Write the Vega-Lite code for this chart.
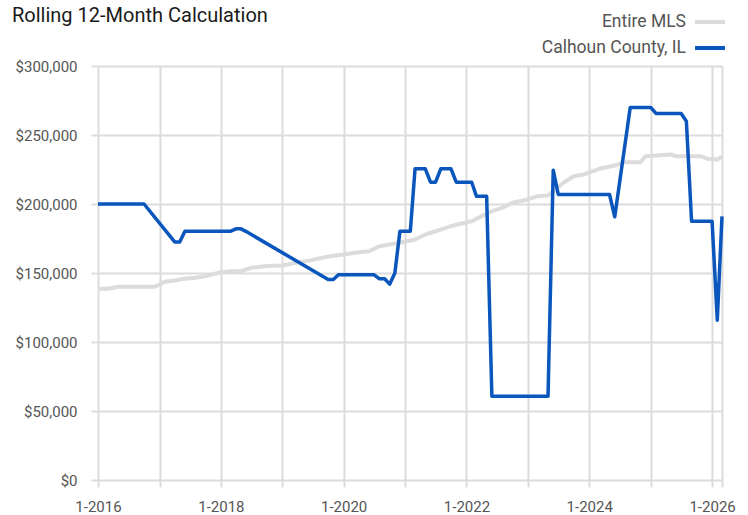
{
  "$schema": "https://vega.github.io/schema/vega-lite/v6.json",
  "width": 624,
  "height": 414,
  "autosize": {"type": "none"},
  "padding": {"left": 98, "top": 66, "right": 26, "bottom": 35},
  "background": "white",
  "config": {
    "font": "Roboto, sans-serif",
    "view": {"stroke": null}
  },
  "title": {
    "text": "Rolling 12-Month Calculation",
    "anchor": "start",
    "frame": "group",
    "orient": "top",
    "font": "Roboto, sans-serif",
    "fontSize": 20,
    "fontWeight": "normal",
    "color": "#1a1a1a",
    "dx": -86,
    "baseline": "alphabetic",
    "offset": -37
  },
  "data": {
    "values": [
      {"date": "2016-01", "series": "Entire MLS", "value": 138600},
      {"date": "2016-03", "series": "Entire MLS", "value": 138600},
      {"date": "2016-05", "series": "Entire MLS", "value": 140000},
      {"date": "2016-12", "series": "Entire MLS", "value": 140000},
      {"date": "2017-01", "series": "Entire MLS", "value": 141700},
      {"date": "2017-02", "series": "Entire MLS", "value": 143600},
      {"date": "2017-04", "series": "Entire MLS", "value": 144500},
      {"date": "2017-05", "series": "Entire MLS", "value": 145300},
      {"date": "2017-06", "series": "Entire MLS", "value": 145800},
      {"date": "2017-08", "series": "Entire MLS", "value": 146500},
      {"date": "2017-10", "series": "Entire MLS", "value": 147700},
      {"date": "2017-11", "series": "Entire MLS", "value": 148700},
      {"date": "2018-01", "series": "Entire MLS", "value": 150600},
      {"date": "2018-03", "series": "Entire MLS", "value": 151300},
      {"date": "2018-05", "series": "Entire MLS", "value": 151300},
      {"date": "2018-07", "series": "Entire MLS", "value": 153800},
      {"date": "2018-10", "series": "Entire MLS", "value": 155000},
      {"date": "2019-01", "series": "Entire MLS", "value": 155400},
      {"date": "2019-04", "series": "Entire MLS", "value": 157500},
      {"date": "2019-07", "series": "Entire MLS", "value": 159500},
      {"date": "2019-10", "series": "Entire MLS", "value": 162000},
      {"date": "2020-01", "series": "Entire MLS", "value": 163400},
      {"date": "2020-04", "series": "Entire MLS", "value": 165100},
      {"date": "2020-06", "series": "Entire MLS", "value": 165800},
      {"date": "2020-08", "series": "Entire MLS", "value": 169400},
      {"date": "2020-10", "series": "Entire MLS", "value": 170700},
      {"date": "2020-12", "series": "Entire MLS", "value": 171900},
      {"date": "2021-03", "series": "Entire MLS", "value": 174300},
      {"date": "2021-05", "series": "Entire MLS", "value": 177900},
      {"date": "2021-08", "series": "Entire MLS", "value": 181500},
      {"date": "2021-10", "series": "Entire MLS", "value": 183900},
      {"date": "2021-12", "series": "Entire MLS", "value": 185900},
      {"date": "2022-02", "series": "Entire MLS", "value": 187500},
      {"date": "2022-04", "series": "Entire MLS", "value": 191200},
      {"date": "2022-06", "series": "Entire MLS", "value": 194800},
      {"date": "2022-08", "series": "Entire MLS", "value": 197200},
      {"date": "2022-10", "series": "Entire MLS", "value": 200900},
      {"date": "2023-01", "series": "Entire MLS", "value": 203300},
      {"date": "2023-03", "series": "Entire MLS", "value": 205700},
      {"date": "2023-05", "series": "Entire MLS", "value": 206200},
      {"date": "2023-08", "series": "Entire MLS", "value": 215400},
      {"date": "2023-10", "series": "Entire MLS", "value": 220100},
      {"date": "2023-12", "series": "Entire MLS", "value": 221400},
      {"date": "2024-03", "series": "Entire MLS", "value": 225500},
      {"date": "2024-06", "series": "Entire MLS", "value": 227900},
      {"date": "2024-08", "series": "Entire MLS", "value": 230300},
      {"date": "2024-11", "series": "Entire MLS", "value": 230300},
      {"date": "2024-12", "series": "Entire MLS", "value": 234600},
      {"date": "2025-05", "series": "Entire MLS", "value": 235900},
      {"date": "2025-06", "series": "Entire MLS", "value": 234600},
      {"date": "2025-11", "series": "Entire MLS", "value": 234600},
      {"date": "2025-12", "series": "Entire MLS", "value": 232800},
      {"date": "2026-02", "series": "Entire MLS", "value": 232200},
      {"date": "2026-03", "series": "Entire MLS", "value": 234200},
      {"date": "2016-01", "series": "Calhoun County, IL", "value": 200000},
      {"date": "2016-10", "series": "Calhoun County, IL", "value": 200000},
      {"date": "2017-04", "series": "Calhoun County, IL", "value": 172500},
      {"date": "2017-05", "series": "Calhoun County, IL", "value": 172500},
      {"date": "2017-06", "series": "Calhoun County, IL", "value": 180300},
      {"date": "2018-03", "series": "Calhoun County, IL", "value": 180300},
      {"date": "2018-04", "series": "Calhoun County, IL", "value": 182000},
      {"date": "2018-05", "series": "Calhoun County, IL", "value": 182000},
      {"date": "2018-06", "series": "Calhoun County, IL", "value": 180000},
      {"date": "2019-10", "series": "Calhoun County, IL", "value": 145300},
      {"date": "2019-11", "series": "Calhoun County, IL", "value": 145300},
      {"date": "2019-12", "series": "Calhoun County, IL", "value": 148700},
      {"date": "2020-07", "series": "Calhoun County, IL", "value": 148700},
      {"date": "2020-08", "series": "Calhoun County, IL", "value": 145800},
      {"date": "2020-09", "series": "Calhoun County, IL", "value": 145800},
      {"date": "2020-10", "series": "Calhoun County, IL", "value": 141900},
      {"date": "2020-11", "series": "Calhoun County, IL", "value": 150000},
      {"date": "2020-12", "series": "Calhoun County, IL", "value": 180300},
      {"date": "2021-02", "series": "Calhoun County, IL", "value": 180300},
      {"date": "2021-03", "series": "Calhoun County, IL", "value": 225500},
      {"date": "2021-05", "series": "Calhoun County, IL", "value": 225500},
      {"date": "2021-06", "series": "Calhoun County, IL", "value": 215800},
      {"date": "2021-07", "series": "Calhoun County, IL", "value": 215800},
      {"date": "2021-08", "series": "Calhoun County, IL", "value": 225500},
      {"date": "2021-10", "series": "Calhoun County, IL", "value": 225500},
      {"date": "2021-11", "series": "Calhoun County, IL", "value": 215800},
      {"date": "2022-02", "series": "Calhoun County, IL", "value": 215800},
      {"date": "2022-03", "series": "Calhoun County, IL", "value": 205700},
      {"date": "2022-05", "series": "Calhoun County, IL", "value": 205700},
      {"date": "2022-06", "series": "Calhoun County, IL", "value": 60700},
      {"date": "2023-05", "series": "Calhoun County, IL", "value": 60700},
      {"date": "2023-06", "series": "Calhoun County, IL", "value": 224500},
      {"date": "2023-07", "series": "Calhoun County, IL", "value": 206900},
      {"date": "2024-05", "series": "Calhoun County, IL", "value": 206900},
      {"date": "2024-06", "series": "Calhoun County, IL", "value": 190700},
      {"date": "2024-09", "series": "Calhoun County, IL", "value": 270000},
      {"date": "2025-01", "series": "Calhoun County, IL", "value": 270000},
      {"date": "2025-02", "series": "Calhoun County, IL", "value": 265600},
      {"date": "2025-07", "series": "Calhoun County, IL", "value": 265600},
      {"date": "2025-08", "series": "Calhoun County, IL", "value": 260000},
      {"date": "2025-09", "series": "Calhoun County, IL", "value": 187500},
      {"date": "2026-01", "series": "Calhoun County, IL", "value": 187500},
      {"date": "2026-02", "series": "Calhoun County, IL", "value": 115800},
      {"date": "2026-03", "series": "Calhoun County, IL", "value": 191000}
    ],
    "format": {"parse": {"date": "utc:'%Y-%m'"}}
  },
  "encoding": {
    "x": {
      "field": "date",
      "type": "temporal",
      "title": null,
      "scale": {
        "type": "utc",
        "domain": [
          {"year": 2016, "month": 1, "date": 1, "utc": true},
          {"year": 2026, "month": 3, "date": 1, "utc": true}
        ]
      },
      "axis": {
        "values": [
          {"year": 2016, "month": 1, "date": 1, "utc": true},
          {"year": 2017, "month": 1, "date": 1, "utc": true},
          {"year": 2018, "month": 1, "date": 1, "utc": true},
          {"year": 2019, "month": 1, "date": 1, "utc": true},
          {"year": 2020, "month": 1, "date": 1, "utc": true},
          {"year": 2021, "month": 1, "date": 1, "utc": true},
          {"year": 2022, "month": 1, "date": 1, "utc": true},
          {"year": 2023, "month": 1, "date": 1, "utc": true},
          {"year": 2024, "month": 1, "date": 1, "utc": true},
          {"year": 2025, "month": 1, "date": 1, "utc": true},
          {"year": 2026, "month": 1, "date": 1, "utc": true},
          {"year": 2026, "month": 3, "date": 1, "utc": true}
        ],
        "labelExpr": "utcmonth(datum.value) == 0 && utcyear(datum.value) % 2 == 0 ? '1-' + utcyear(datum.value) : ''",
        "labelFontSize": 15,
        "labelColor": "#555555",
        "labelPadding": 12,
        "labelFlush": false,
        "labelOverlap": false,
        "domain": false,
        "ticks": true,
        "tickSize": 7,
        "tickColor": "#dcdcdc",
        "tickWidth": 2,
        "grid": true,
        "gridColor": "#dcdcdc",
        "gridWidth": 2
      }
    },
    "y": {
      "field": "value",
      "type": "quantitative",
      "title": null,
      "scale": {"domain": [0, 300000], "nice": false, "zero": true},
      "axis": {
        "values": [0, 50000, 100000, 150000, 200000, 250000, 300000],
        "format": "$,.0f",
        "labelFontSize": 15,
        "labelColor": "#555555",
        "labelPadding": 14,
        "domain": false,
        "ticks": true,
        "tickSize": 7,
        "tickColor": "#dcdcdc",
        "tickWidth": 2,
        "grid": true,
        "gridColor": "#dcdcdc",
        "gridWidth": 2
      }
    },
    "color": {
      "field": "series",
      "type": "nominal",
      "scale": {
        "domain": ["Entire MLS", "Calhoun County, IL"],
        "range": ["#dcdcdc", "#0a56bd"]
      },
      "legend": {
        "title": null,
        "orient": "none",
        "legendX": 595,
        "legendY": -61,
        "padding": 0,
        "symbolType": "stroke",
        "symbolSize": 900,
        "symbolStrokeWidth": 4,
        "labelAlign": "right",
        "labelOffset": -41,
        "labelFontSize": 17.5,
        "labelColor": "#555555",
        "labelLimit": 400,
        "rowPadding": -20
      }
    }
  },
  "layer": [
    {
      "transform": [{"filter": "datum.series == 'Entire MLS'"}],
      "mark": {"type": "line", "strokeWidth": 4, "strokeJoin": "round"}
    },
    {
      "transform": [{"filter": "datum.series == 'Calhoun County, IL'"}],
      "mark": {"type": "line", "strokeWidth": 3.5, "strokeJoin": "round"}
    }
  ]
}
